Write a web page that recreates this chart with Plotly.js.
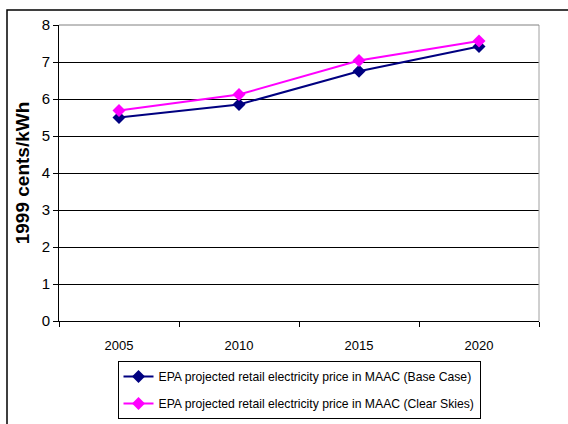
<!DOCTYPE html>
<html><head><meta charset="utf-8">
<script src="https://cdn.plot.ly/plotly-3.0.1.min.js"></script>
<style>html,body{margin:0;padding:0;background:#fff;}#chart{width:568px;height:424px;}</style>
</head><body><div id="chart"></div>
<script>
var years = ['2005', '2010', '2015', '2020'];
var baseCase = [5.50, 5.85, 6.75, 7.42];
var clearSkies = [5.69, 6.12, 7.04, 7.57];
var seriesNames = ['EPA projected retail electricity price in MAAC (Base Case)', 'EPA projected retail electricity price in MAAC (Clear Skies)'];
var yTicks = [0, 1, 2, 3, 4, 5, 6, 7, 8];

var narrow = '"Liberation Sans Narrow", "Arial Narrow", Arial, sans-serif';
var traces = [
  {x: years, y: baseCase, name: seriesNames[0], legendgroup: 'a', type: 'scatter', mode: 'lines+markers',
   line: {color: '#000080', width: 2}, marker: {symbol: 'diamond', size: 10, color: '#000080'}},
  {x: years, y: clearSkies, name: seriesNames[1], legendgroup: 'b', type: 'scatter', mode: 'lines+markers',
   line: {color: '#FF00FF', width: 2}, marker: {symbol: 'diamond', size: 10, color: '#FF00FF'}}
];
var layout = {
  width: 568, height: 424,
  margin: {l: 59, r: 29, t: 25, b: 103, autoexpand: false},
  paper_bgcolor: '#fff', plot_bgcolor: '#fff',
  showlegend: true,
  legend: {x: 0.5, xanchor: 'center', y: -0.135, yanchor: 'top', orientation: 'v',
    bordercolor: '#000', borderwidth: 1, font: {family: narrow, size: 12.2, color: '#000'},
    tracegroupgap: 8},
  xaxis: {type: 'category', range: [-0.5, 3.5], tickson: 'boundaries', ticks: 'outside', ticklen: 5,
    tickcolor: '#000', showgrid: false, showline: true, linecolor: '#000', linewidth: 1,
    ticklabelstandoff: 12, automargin: false,
    tickfont: {family: narrow, size: 13, color: '#000'}, zeroline: false, fixedrange: true},
  yaxis: {range: [0, 8], tickvals: yTicks, ticks: 'outside', ticklen: 5, tickcolor: '#000',
    showgrid: true, gridcolor: '#000', gridwidth: 1, showline: true, linecolor: '#000', linewidth: 1,
    zeroline: false, automargin: true, tickfont: {family: 'Arial, "Liberation Sans", sans-serif', size: 15, color: '#000'},
    title: {text: '<b>1999 cents/kWh</b>', standoff: 7, font: {family: 'Arial, "Liberation Sans", sans-serif', size: 19, color: '#000'}}},
  shapes: [
    {type: 'line', xref: 'paper', yref: 'paper', x0: 1, x1: 1, y0: 0, y1: 1, line: {color: '#a0a0a0', width: 1}},
    {type: 'line', xref: 'paper', yref: 'paper', x0: 0, x1: 1, y0: 1, y1: 1, line: {color: '#808080', width: 1}},
    {type: 'rect', xref: 'paper', yref: 'paper', x0: (7 - 59) / 480, x1: 1.2, y0: -0.5, y1: (321 - 10) / 296,
     line: {color: '#000', width: 1.5}, fillcolor: 'rgba(0,0,0,0)'}
  ]
};
Plotly.newPlot('chart', traces, layout, {displayModeBar: false, staticPlot: true});
</script></body></html>
